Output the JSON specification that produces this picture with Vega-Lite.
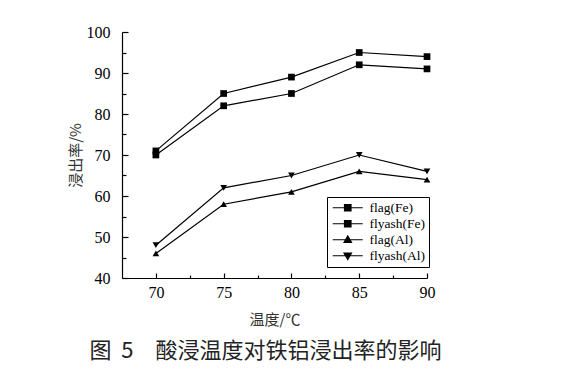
{
  "$schema": "https://vega.github.io/schema/vega-lite/v6.json",
  "autosize": {"type": "none"},
  "width": 305,
  "height": 246,
  "padding": {"left": 122, "top": 32, "right": 135, "bottom": 90},
  "background": "white",
  "config": {"view": {"stroke": null}},
  "title": {"text": "图\u00a0\u00a05\u3000酸浸温度对铁铝浸出率的影响", "orient": "bottom", "font": "Noto Sans CJK SC", "fontSize": 22, "fontWeight": "normal", "color": "#222", "offset": 14, "dx": -9},
  "data": {"values": [
    {"x": 70, "y": 71, "series": "flag(Fe)"},
    {"x": 75, "y": 85, "series": "flag(Fe)"},
    {"x": 80, "y": 89, "series": "flag(Fe)"},
    {"x": 85, "y": 95, "series": "flag(Fe)"},
    {"x": 90, "y": 94, "series": "flag(Fe)"},
    {"x": 70, "y": 70, "series": "flyash(Fe)"},
    {"x": 75, "y": 82, "series": "flyash(Fe)"},
    {"x": 80, "y": 85, "series": "flyash(Fe)"},
    {"x": 85, "y": 92, "series": "flyash(Fe)"},
    {"x": 90, "y": 91, "series": "flyash(Fe)"},
    {"x": 70, "y": 46, "series": "flag(Al)"},
    {"x": 75, "y": 58, "series": "flag(Al)"},
    {"x": 80, "y": 61, "series": "flag(Al)"},
    {"x": 85, "y": 66, "series": "flag(Al)"},
    {"x": 90, "y": 64, "series": "flag(Al)"},
    {"x": 70, "y": 48, "series": "flyash(Al)"},
    {"x": 75, "y": 62, "series": "flyash(Al)"},
    {"x": 80, "y": 65, "series": "flyash(Al)"},
    {"x": 85, "y": 70, "series": "flyash(Al)"},
    {"x": 90, "y": 66, "series": "flyash(Al)"}
  ]},
  "encoding": {
    "x": {"field": "x", "type": "quantitative",
      "scale": {"domain": [67.5, 90], "nice": false, "zero": false},
      "axis": {"values": [70, 72.5, 75, 77.5, 80, 82.5, 85, 87.5, 90],
        "labelExpr": "datum.value % 5 === 0 ? datum.label : ''",
        "tickSize": {"condition": {"test": "datum.value % 5 === 0", "value": -5}, "value": -3},
        "grid": false, "domainColor": "black", "domainWidth": 1.2, "tickColor": "black", "tickWidth": 1.2,
        "labelFont": "Liberation Serif", "labelFontSize": 16, "labelColor": "black", "labelPadding": 11, "labelFlush": false, "labelOverlap": false,
        "title": "温度/℃", "titleFont": "Noto Sans CJK SC", "titleFontSize": 15, "titleFontWeight": "normal", "titleColor": "#333", "titlePadding": 10}},
    "y": {"field": "y", "type": "quantitative",
      "scale": {"domain": [40, 100], "nice": false, "zero": false},
      "axis": {"values": [40, 45, 50, 55, 60, 65, 70, 75, 80, 85, 90, 95, 100],
        "labelExpr": "datum.value % 10 === 0 ? datum.label : ''",
        "tickSize": {"condition": {"test": "datum.value % 10 === 0", "value": -6}, "value": -4},
        "grid": false, "domainColor": "black", "domainWidth": 1.2, "tickColor": "black", "tickWidth": 1.2,
        "labelFont": "Liberation Serif", "labelFontSize": 16, "labelColor": "black", "labelPadding": 18, "labelFlush": false, "labelOverlap": false,
        "title": "浸出率/%", "titleFont": "Noto Sans CJK SC", "titleFontSize": 15, "titleFontWeight": "normal", "titleColor": "#333", "titlePadding": 3}}
  },
  "layer": [
    {"mark": {"type": "line", "color": "black", "strokeWidth": 1.2},
     "encoding": {"detail": {"field": "series"}}},
    {"mark": {"type": "point", "filled": true, "color": "black", "opacity": 1},
     "encoding": {
       "shape": {"field": "series", "type": "nominal", "legend": null,
         "scale": {"domain": ["flag(Fe)", "flyash(Fe)", "flag(Al)", "flyash(Al)"], "range": ["square", "square", "triangle-up", "triangle-down"]}},
       "size": {"field": "series", "type": "nominal", "legend": null,
         "scale": {"domain": ["flag(Fe)", "flyash(Fe)", "flag(Al)", "flyash(Al)"], "range": [45, 45, 60, 60]}}}},
    {"mark": {"type": "point", "filled": true, "fill": "black", "stroke": "black", "strokeWidth": 1.2, "opacity": 0},
     "encoding": {
       "shape": {"field": "series", "type": "nominal",
         "scale": {"domain": ["flag(Fe)", "flyash(Fe)", "flag(Al)", "flyash(Al)"],
           "range": ["M-1,0H5M1.35,-0.65H2.65V0.65H1.35Z", "M-1,0H5M1.35,-0.65H2.65V0.65H1.35Z", "M-1,0H5M1.25,0.55L2,-0.75L2.75,0.55Z", "M-1,0H5M1.25,-0.55H2.75L2,0.75Z"]},
         "legend": {"orient": "none", "legendX": 205, "legendY": 165, "title": null,
           "strokeColor": "black", "padding": 4, "rowPadding": 1,
           "symbolSize": 100, "symbolFillColor": "black", "symbolStrokeColor": "black", "symbolStrokeWidth": 1.2, "symbolOpacity": 1,
           "labelFont": "Liberation Serif", "labelFontSize": 13.5, "labelColor": "black", "labelOffset": 25,
           "encoding": {"symbols": {"stroke": {"value": "black"}, "strokeWidth": {"value": 1.2}, "strokeOpacity": {"value": 1}, "opacity": {"value": 1}}}}}}}
  ],
  "resolve": {"scale": {"shape": "independent", "size": "independent"}}
}
